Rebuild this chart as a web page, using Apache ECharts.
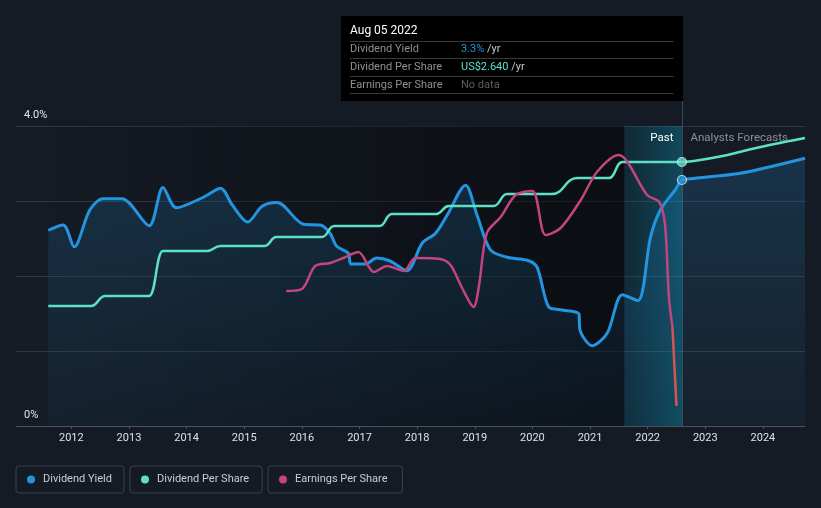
<!DOCTYPE html>
<html>
<head>
<meta charset="utf-8">
<script src="https://cdn.jsdelivr.net/npm/echarts@6/dist/echarts.min.js"></script>
<style>
html,body{margin:0;padding:0;background:#151b24;}
#c{width:821px;height:508px;}
</style>
</head>
<body>
<div id="c"></div>
<script>
// ---- data (x = decimal year) ----
const yieldDates  = [2011.60,2011.86,2012.05,2012.32,2012.55,2012.88,2013.35,2013.59,2013.82,2014.29,2014.59,2014.79,2015.06,2015.31,2015.57,2016.03,2016.32,2016.49,2016.60,2016.81,2016.85,2017.10,2017.30,2017.53,2017.82,2018.09,2018.32,2018.52,2018.84,2019.04,2019.27,2019.56,2019.91,2020.08,2020.28,2020.49,2020.81,2020.82,2021.04,2021.30,2021.56,2021.83,2022.05,2022.22,2022.48,2022.595,2022.80,2023.61,2024.20,2024.73];
const yieldValues = [2.61,2.68,2.39,2.88,3.03,3.03,2.67,3.18,2.91,3.05,3.17,2.95,2.72,2.93,2.98,2.69,2.68,2.57,2.40,2.30,2.16,2.16,2.24,2.20,2.07,2.44,2.57,2.81,3.21,2.81,2.35,2.25,2.21,2.12,1.59,1.55,1.49,1.30,1.07,1.24,1.75,1.67,2.52,2.88,3.15,3.28,3.30,3.37,3.47,3.57];

const dpsDates  = [2011.60,2012.34,2012.59,2013.35,2013.59,2014.35,2014.59,2015.35,2015.56,2016.35,2016.56,2017.35,2017.56,2018.33,2018.55,2019.33,2019.56,2020.34,2020.78,2021.33,2021.56,2022.595,2022.80,2023.30,2023.73,2024.20,2024.73];
const dpsValues = [1.20,1.20,1.30,1.30,1.75,1.75,1.80,1.80,1.89,1.89,2.00,2.00,2.12,2.12,2.20,2.20,2.32,2.32,2.48,2.48,2.64,2.64,2.65,2.70,2.76,2.82,2.88];

const epsDates  = [2015.73,2016.00,2016.23,2016.49,2016.72,2016.98,2017.25,2017.48,2017.77,2017.97,2018.40,2018.58,2018.78,2018.98,2019.07,2019.21,2019.45,2019.71,2020.00,2020.23,2020.49,2020.84,2021.12,2021.50,2021.65,2021.99,2022.20,2022.30,2022.37,2022.43,2022.50];
const epsValues = [1.35,1.37,1.60,1.63,1.68,1.74,1.54,1.60,1.55,1.68,1.67,1.61,1.38,1.19,1.39,1.93,2.09,2.31,2.35,1.91,1.98,2.26,2.54,2.71,2.64,2.31,2.24,2.02,1.28,0.99,0.20];

const xTicks = [2012,2013,2014,2015,2016,2017,2018,2019,2020,2021,2022,2023,2024];
const yTickValues = [0,4];
const yTickLabels = ['0%','4.0%'];

const tooltipDate = 2022.595;
const tooltipTitle = 'Aug 05 2022';
const tooltipYield = '3.3%';
const tooltipDps = 'US$2.640';
const tooltipEps = 'No data';

const C_BLUE = '#2394df', C_TEAL = '#5ce0c6', C_PINK = '#c4447f', C_RED = '#d9534f';
const FONT = 'Roboto, "Noto Sans", sans-serif';

const zip = (a,b) => a.map((v,i)=>[v,b[i]]);
const yieldData = zip(yieldDates, yieldValues);
const dpsData = zip(dpsDates, dpsValues);
const epsData = zip(epsDates, epsValues);
const redStart = epsDates.length - 2;
const epsMain = epsData.slice(0, redStart + 1);
const epsRed = epsData.slice(redStart);
const tipIdxY = yieldDates.indexOf(tooltipDate);
const tipIdxD = dpsDates.indexOf(tooltipDate);
const dpsPast = dpsData.slice(0, tipIdxD + 1);
const dpsFuture = dpsData.slice(tipIdxD);

const chart = echarts.init(document.getElementById('c'), null, {renderer:'canvas'});

function legendBox(name, left, padRight) {
  return {
    data:[name], left:left, top:466, orient:'horizontal',
    icon:'circle', itemWidth:8, itemHeight:8, itemGap:0,
    padding:[8,padRight,8,11], borderColor:'#3a404b', borderWidth:1, borderRadius:3,
    textStyle:{color:'#c9cdd3', fontSize:11, fontFamily:FONT, padding:[0,0,0,3]}
  };
}

chart.setOption({
  backgroundColor:'#151b24',
  animation:false,
  grid:{left:16, right:16, top:126, bottom:82, containLabel:false},
  legend:[legendBox('Dividend Yield',16,12), legendBox('Dividend Per Share',130,13), legendBox('Earnings Per Share',268,15)],
  xAxis:{
    type:'value', min:2011.04, max:2024.73,
    axisLine:{show:true, lineStyle:{color:'#4c525c', width:1}},
    axisTick:{show:true, length:3, lineStyle:{color:'#4c525c'}, customValues:xTicks},
    axisLabel:{customValues:xTicks, color:'#dde1e6', fontSize:11, fontFamily:FONT, margin:7, formatter:v=>String(Math.round(v))},
    splitLine:{show:false}
  },
  yAxis:[{
    type:'value', min:0, max:4, interval:1,
    axisLine:{show:false}, axisTick:{show:false},
    axisLabel:{inside:true, margin:8, customValues:yTickValues, color:'#e2e5ea', fontSize:11, fontFamily:FONT,
      verticalAlign:'bottom', padding:[0,0,5,0],
      formatter:v=>{const i=yTickValues.indexOf(v); return i>=0?yTickLabels[i]:'';}},
    splitLine:{show:true, lineStyle:{color:'#30363f', width:1}}
  },{
    type:'value', min:0, max:3, show:false
  }],
  series:[
    {
      name:'Dividend Yield', type:'line', data:yieldData, yAxisIndex:0,
      smooth:0.3, showSymbol:false, z:3,
      lineStyle:{color:C_BLUE, width:3}, itemStyle:{color:C_BLUE},
      areaStyle:{color:{type:'linear',x:0,y:0,x2:0,y2:1,colorStops:[{offset:0,color:'rgba(35,148,223,0.28)'},{offset:1,color:'rgba(35,148,223,0.07)'}]}},
      markArea:{silent:true, z:1, data:[
        [{xAxis:yieldDates[0], itemStyle:{color:{type:'linear',x:0,y:0,x2:1,y2:0,colorStops:[{offset:0,color:'rgba(0,0,0,0.02)'},{offset:1,color:'rgba(0,0,0,0.5)'}]}}},{xAxis:tooltipDate-1}],
        [{xAxis:tooltipDate-1, itemStyle:{color:{type:'linear',x:0,y:0,x2:1,y2:0,colorStops:[{offset:0,color:'rgba(0,110,140,0.18)'},{offset:1,color:'rgba(10,150,185,0.38)'}]}}},{xAxis:tooltipDate}]
      ]}
    },
    {
      name:'Dividend Per Share', type:'line', data:dpsPast, yAxisIndex:1,
      smooth:0.5, smoothMonotone:'x', showSymbol:false, z:4,
      lineStyle:{color:C_TEAL, width:2.5}, itemStyle:{color:C_TEAL}
    },
    {
      name:'Dividend Per Share', type:'line', data:dpsFuture, yAxisIndex:1,
      smooth:0.3, showSymbol:false, z:4,
      lineStyle:{color:C_TEAL, width:2.5}, itemStyle:{color:C_TEAL}
    },
    {
      name:'Earnings Per Share', type:'line', data:epsMain, yAxisIndex:1,
      smooth:0.3, showSymbol:false, z:5,
      lineStyle:{color:C_PINK, width:2.5}, itemStyle:{color:C_PINK}
    },
    {
      name:'EPS end', type:'line', data:epsRed, yAxisIndex:1,
      smooth:false, showSymbol:false, z:5,
      lineStyle:{color:C_RED, width:2.5}, itemStyle:{color:C_RED}
    },
    {
      name:'yieldMarker', type:'scatter', yAxisIndex:0, z:6,
      data:[yieldData[tipIdxY]], symbolSize:9,
      itemStyle:{color:C_BLUE, borderColor:'#e8eef4', borderWidth:1.2}
    },
    {
      name:'dpsMarker', type:'scatter', yAxisIndex:1, z:6,
      data:[dpsData[tipIdxD]], symbolSize:9,
      itemStyle:{color:C_TEAL, borderColor:'#e8eef4', borderWidth:1.2}
    }
  ]
});

// tooltip-like overlay positioned from the axis scale
const lineX = Math.round(chart.convertToPixel({xAxisIndex:0}, tooltipDate)) + 0.5;
const gridBottom = 426;
const boxLeft = 341, boxTop = 16, boxBottom = 101;
const sepX1 = boxLeft + 9, sepX2 = lineX - 9;
const rowLbl = {fill:'#8d9096', fontSize:11, fontFamily:FONT};
function sep(y){ return {type:'line', silent:true, shape:{x1:sepX1,y1:y,x2:sepX2,y2:y}, style:{stroke:'#3a3a3a', lineWidth:1}}; }
chart.setOption({
  graphic:[
    {type:'line', silent:true, z:50, shape:{x1:lineX,y1:boxBottom,x2:lineX,y2:gridBottom}, style:{stroke:'rgba(110,160,180,0.35)', lineWidth:1}},
    {type:'group', z:100, children:[
      {type:'rect', shape:{x:boxLeft,y:boxTop,width:lineX-boxLeft+0.5,height:boxBottom-boxTop}, style:{fill:'#000000'}},
      {type:'text', x:sepX1, y:31, style:{text:tooltipTitle, fill:'#ffffff', fontSize:12, fontWeight:'normal', fontFamily:FONT, verticalAlign:'middle'}},
      sep(41.5), sep(58.5), sep(76.5), sep(93.5),
      {type:'text', x:sepX1, y:49.5, style:Object.assign({text:'Dividend Yield', verticalAlign:'middle'}, rowLbl)},
      {type:'text', x:461, y:49.5, style:{text:'{v|'+tooltipYield+'}{u| /yr}', verticalAlign:'middle', fontFamily:FONT, fontSize:11,
        rich:{v:{fill:C_BLUE, fontSize:11, fontFamily:FONT}, u:{fill:'#c6c9ce', fontSize:11, fontFamily:FONT}}}},
      {type:'text', x:sepX1, y:67, style:Object.assign({text:'Dividend Per Share', verticalAlign:'middle'}, rowLbl)},
      {type:'text', x:461, y:67, style:{text:'{v|'+tooltipDps+'}{u| /yr}', verticalAlign:'middle', fontFamily:FONT, fontSize:11,
        rich:{v:{fill:C_TEAL, fontSize:11, fontFamily:FONT}, u:{fill:'#c6c9ce', fontSize:11, fontFamily:FONT}}}},
      {type:'text', x:sepX1, y:85, style:Object.assign({text:'Earnings Per Share', verticalAlign:'middle'}, rowLbl)},
      {type:'text', x:461, y:85, style:{text:tooltipEps, fill:'#5a5d62', fontSize:11, fontFamily:FONT, verticalAlign:'middle'}}
    ]},
    {type:'text', z:60, x:lineX-9, y:138, style:{text:'Past', fill:'#ffffff', fontSize:11.5, fontFamily:FONT, align:'right', verticalAlign:'middle'}},
    {type:'text', z:60, x:lineX+8, y:138, style:{text:'Analysts Forecasts', fill:'#8b9098', fontSize:11.5, fontFamily:FONT, align:'left', verticalAlign:'middle'}}
  ]
});
</script>
</body>
</html>
